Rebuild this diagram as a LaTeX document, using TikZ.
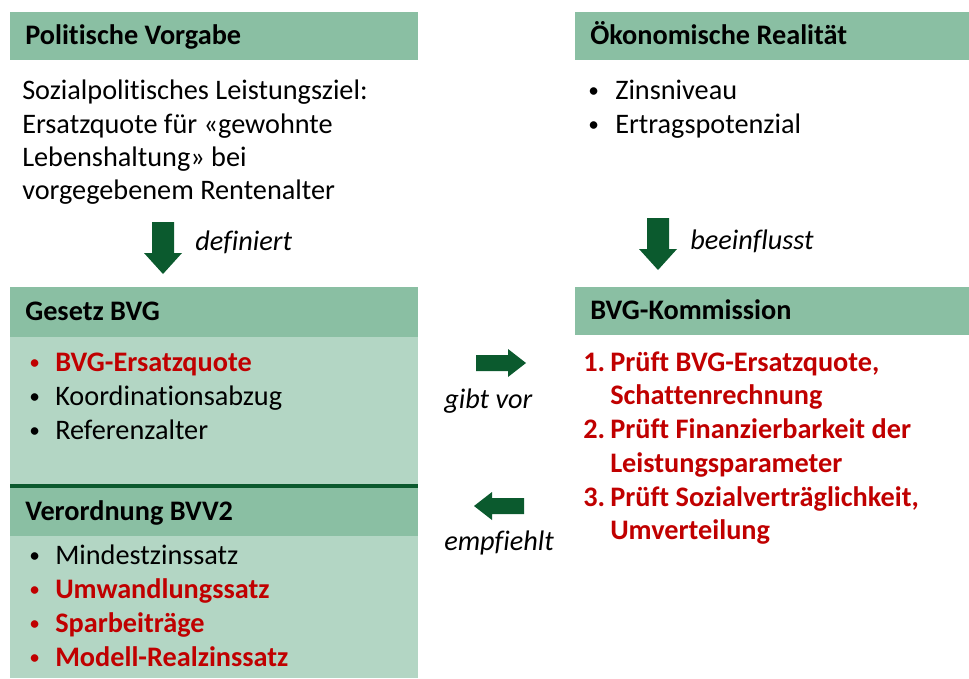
\documentclass[tikz,border=0pt]{standalone}
\usepackage{fontspec}
\setmainfont{Carlito}[Ligatures=CommonOff]
\usetikzlibrary{positioning}
\definecolor{hdrgreen}{HTML}{8ABFA3}
\definecolor{bodygreen}{HTML}{B3D6C4}
\definecolor{arrgreen}{HTML}{0B5A2E}
\definecolor{redtxt}{HTML}{C00000}
\tikzstyle{txt}   = [anchor=base west, inner sep=0pt, font=\fontsize{21.2}{25}\selectfont]
\tikzstyle{hdr}   = [txt, font=\fontsize{21.2}{25}\selectfont\bfseries]
\tikzstyle{hot}   = [txt, text=redtxt, font=\fontsize{21.2}{25}\selectfont\bfseries]
\tikzstyle{lbl}   = [txt, font=\fontsize{21.2}{25}\selectfont\itshape]
\tikzstyle{dot}   = [txt, font=\fontsize{16}{20}\selectfont]
\tikzset{
  vpfeil/.pic={\fill[arrgreen] (0,-11) -- (31,-11) -- (31,-19) -- (52,0) -- (31,19) -- (31,11) -- (0,11) -- cycle;},
  hpfeil/.pic={\fill[arrgreen] (0,-8) -- (32,-8) -- (32,-14) -- (50,0) -- (32,14) -- (32,8) -- (0,8) -- cycle;}
}

\begin{document}
\begin{tikzpicture}[x=0.75pt, y=-0.75pt]
\useasboundingbox (0,0) rectangle (969,678);

% Felder
\fill[hdrgreen] (10,12) rectangle (418,60);
\fill[hdrgreen] (575,12) rectangle (969,60);
\fill[hdrgreen] (10,287) rectangle (418,337);
\fill[bodygreen] (10,337) rectangle (418,485);
\fill[hdrgreen] (10,487) rectangle (418,536);
\fill[bodygreen] (10,536) rectangle (418,678);
\fill[hdrgreen] (575,287) rectangle (969,335);
\draw[arrgreen, line width=3pt] (10,486) -- (418,486);

% Politische Vorgabe
\node[hdr] (polhdr) at (25,44) {Politische Vorgabe};
\node[txt] (pol1) at (22,99) {Sozialpolitisches Leistungsziel:};
\node[txt] (pol2) at (22,133) {Ersatzquote für «gewohnte};
\node[txt] (pol3) at (22,166) {Lebenshaltung» bei};
\node[txt] (pol4) at (22,199) {vorgegebenem Rentenalter};

% Ökonomische Realität
\node[hdr] (oekhdr) at (590,44) {Ökonomische Realität};
\node[dot] (oekb1) at (588,97) {•};
\node[txt] (oek1) at (615,99) {Zinsniveau};
\node[dot] (oekb2) at (588,131) {•};
\node[txt] (oek2) at (615,133) {Ertragspotenzial};

% Pfeile nach unten
\pic[rotate=-90] at (163,222) {vpfeil};
\node[lbl] (definiert) at (195,250) {definiert};
\pic[rotate=-90] at (658,218) {vpfeil};
\node[lbl] (beeinflusst) at (690,249) {beeinflusst};

% Gesetz BVG
\node[hdr] (bvghdr) at (25,320) {Gesetz BVG};
\node[dot, text=redtxt] (bvgb1) at (29,369) {•};
\node[hot] (bvg1) at (55,371) {BVG-Ersatzquote};
\node[dot] (bvgb2) at (29,403) {•};
\node[txt] (bvg2) at (55,405) {Koordinationsabzug};
\node[dot] (bvgb3) at (29,437) {•};
\node[txt] (bvg3) at (55,439) {Referenzalter};

% Verordnung BVV2
\node[hdr] (bvvhdr) at (25,520) {Verordnung BVV2};
\node[dot] (bvvb1) at (29,562) {•};
\node[txt] (bvv1) at (55,564) {Mindestzinssatz};
\node[dot, text=redtxt] (bvvb2) at (29,596) {•};
\node[hot] (bvv2) at (55,598) {Umwandlungssatz};
\node[dot, text=redtxt] (bvvb3) at (29,630) {•};
\node[hot] (bvv3) at (55,632) {Sparbeiträge};
\node[dot, text=redtxt] (bvvb4) at (29,664) {•};
\node[hot] (bvv4) at (55,666) {Modell-Realzinssatz};

% BVG-Kommission
\node[hdr] (komhdr) at (590,319) {BVG-Kommission};
\node[hot] (komn1) at (583,371) {1.};
\node[hot] (kom1a) at (610,371) {Prüft BVG-Ersatzquote,};
\node[hot] (kom1b) at (610,404) {Schattenrechnung};
\node[hot] (komn2) at (583,438) {2.};
\node[hot] (kom2a) at (610,438) {Prüft Finanzierbarkeit der};
\node[hot] (kom2b) at (610,472) {Leistungsparameter};
\node[hot] (komn3) at (583,506) {3.};
\node[hot] (kom3a) at (610,506) {Prüft Sozialverträglichkeit,};
\node[hot] (kom3b) at (610,539) {Umverteilung};

% Pfeile zwischen den Feldern
\pic at (476,363) {hpfeil};
\node[lbl] (gibtvor) at (444,408) {gibt vor};
\pic[rotate=180] at (524,506) {hpfeil};
\node[lbl] (empfiehlt) at (444,550) {empfiehlt};

\end{tikzpicture}
\end{document}
